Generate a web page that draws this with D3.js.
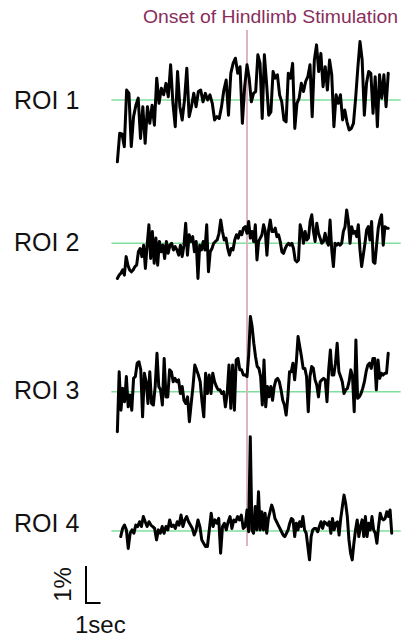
<!DOCTYPE html>
<html>
<head>
<meta charset="utf-8">
<script src="https://cdn.jsdelivr.net/npm/d3@7"></script>
<style>
  html, body { margin: 0; padding: 0; background: #ffffff; }
  svg { display: block; }
  text { font-family: "Liberation Sans", Arial, sans-serif; }
</style>
</head>
<body>
<svg id="chart" width="404" height="637"></svg>
<script>
// ---------------- data ----------------
const roiNames = ["ROI 1", "ROI 2", "ROI 3", "ROI 4"];
const titleText = "Onset of Hindlimb Stimulation";
const scaleBarPctLabel = "1%";
const scaleBarSecLabel = "1sec";
const scaleBarPct = 1;   // %
const scaleBarSec = 1;   // s

// trace start / end times (s, relative to stimulation onset)
const traceStart = [-8.94, -8.94, -8.94, -8.71];
const traceEnd   = [9.74, 9.74, 9.74, 9.98];

// dF/F (%) before onset (last sample at onset)
const roi1Pre = [-1.67,-0.90,-0.92,-1.26,0.27,0.18,-1.26,-0.45,-0.14,0.05,
  -1.04,-0.18,-1.17,-0.18,-0.63,-0.14,-0.68,0.59,-0.09,0.32,
  0.14,0.45,0.09,0.95,-0.09,-0.72,0.77,-0.18,-0.54,0,
  0.86,-0.45,-0.18,0.18,-0.18,0.23,0.27,-0.05,0.18,0,
  0.14,-0.09,-0.54,-0.45,-0.50,-0.18,0.27,0.54,-0.41,0.72,
  0.99,1.13,0.72,0.90,-0.63,0.36,0.95];
// dF/F (%) after onset (first sample at onset)
const roi1Post = [0.95,0.59,-0.05,0.18,0.23,
  1.22,0.99,-0.50,1.22,0.45,-0.41,-0.32,0.77,0.59,0.68,
  0.14,-0.05,-0.54,-0.59,0.72,0.59,0.99,-0.77,-0.09,0.05,
  0.45,0.23,0.50,0.63,0.95,-0.45,1.08,1.49,0.77,1.26,
  0.36,0.90,0.27,1.08,0.68,-0.72,0.14,-0.09,0.14,-0.54,
  -0.27,-0.59,-0.81,-0.77,-0.63,0.05,0.86,1.58,1.08,-0.41,
  0.45,0.77,0.72,-0.36,0.63,-0.72,0.68,0.05,0.68,-0.18,0.72];

const roi2Pre = [-0.95,-0.86,-0.81,-0.72,-0.86,-0.36,-0.59,-0.72,-0.77,-0.72,
  -0.63,-0.59,-0.23,-0.14,-0.36,-0.05,-0.68,-0.05,0.50,-0.41,
  0.32,-0.54,0.14,-0.59,0.05,-0.23,-0.05,-0.41,0.05,-0.27,
  -0.05,0,-0.18,-0.09,-0.18,-0.32,-0.05,-0.36,-0.05,0.54,
  -0.32,0.23,0.05,0.18,-0.23,0.05,-0.95,-0.05,-0.18,0.05,
  -0.18,0.50,-0.77,-0.23,-0.14,0,0.05,0.09,0.27,0.63,
  0.32,0.09,0.14,-0.14,-0.32,-0.14,-0.18,0.09,0.23,0.14,
  0.32,0.23,0.41,0.45,0.27];
const roi2Post = [0.27,0.59,0.14,0.32,0.05,0.50,-0.45,0.05,
  0.14,0.23,0.50,0.32,-0.32,0.36,0.63,0.32,0.32,0.41,
  0.18,0.23,0.05,-0.23,-0.27,-0.14,-0.05,0,-0.05,0,
  -0.14,-0.45,-0.50,-0.45,0.50,0.32,0,0.32,0.09,0.14,
  0.59,0.77,0.32,0.05,0.54,0.27,0.14,0,0.05,0.27,
  0.05,-0.05,0.63,-0.18,-0.63,0,-0.05,0,-0.05,0,
  0.32,0.45,0.90,0.59,0,0.45,0.27,0.32,0.18,0.50,
  -0.18,-0.63,-0.32,0,0.36,0.45,0.09,0.59,-0.50,-0.54,
  -0.05,0.41,0.63,0.77,-0.05,0.45,0.41,0.41];

const roi3Pre = [-1.08,0.54,-0.50,0.09,-0.27,0.41,-0.41,-0.09,-0.50,0.36,
  0.41,0.77,0.81,0.59,-0.68,0.50,0.27,-0.32,0.54,-0.32,
  -0.36,0.14,1.04,0.14,0.05,-0.36,0.90,-0.14,-0.14,0.59,
  0.54,0.27,0.36,0.27,0.32,-0.05,0.14,-0.23,-0.32,-0.14,
  -0.81,-0.32,0.14,0.72,0.59,0.45,0.27,-0.27,-0.68,0.50,
  -0.05,0.45,-0.05,0.50,0.27,0.14,0.05,0.05,-0.05,0,
  -0.41,-0.05,0.72,-0.45,0.72,-0.50,0.86,0.90,0.59,0.59,
  0.45,0.45,0.41];
const roi3Post = [0.41,0.99,2.03,1.76,1.31,0.95,
  0.68,0.63,0.41,-0.36,0.86,-0.41,0.14,-0.14,0.14,-0.23,
  0.14,0.32,0.36,0.27,0.05,-0.23,-0.36,-0.63,-0.14,0.54,
  0.54,0.77,0.32,0.81,1.49,1.22,0.95,0.63,0.63,0.41,
  -0.54,0.41,0.68,0.63,0.32,0.18,-0.14,0.27,0.32,0.36,
  0.32,-0.27,0.59,1.13,0.45,0.45,0.77,1.31,0.54,0.41,
  0.27,-0.05,0.05,0.09,0.27,0.59,0.41,-0.54,1.40,-0.18,
  -0.14,-0.05,0.09,0.27,0.54,0.72,0.77,0.63,0.90,0.90,
  0.05,0.86,0.36,0.50,0.45,0.50,0.50,1.04];

const roi4Pre = [-0.15,0.07,0.16,0.03,-0.47,-0.06,0.03,-0.06,0.16,0.12,
  0.25,0.12,0.39,0.25,0.12,0.25,0.16,0.12,0.07,-0.24,
  0.03,-0.06,0.12,-0.06,0.12,0.03,0.30,0.12,0.16,0.07,
  0.25,0.16,0.43,0.12,0.30,0.39,0.25,0.16,0.07,-0.11,
  0.03,0.30,0.12,-0.24,-0.33,-0.42,-0.42,0.03,0.48,0.12,
  0.30,0.21,0.34,-0.60,0.12,0.21,0.03,0.25,0.39,0.07,
  0.30,0.25,0.39,0.30,0.43,0.07,0.12,0.57];
const roi4Post = [0.57,-0.02,
  2.55,0.03,-0.06,0.66,0.03,1.06,0.03,0.52,0.03,0.48,
  -0.06,0.34,0.52,0.70,0.57,0.34,0.25,0.16,0.07,-0.02,
  -0.11,-0.15,-0.06,0.03,0.21,0.34,0.30,-0.15,0.21,0.03,
  0.25,0.12,0.39,0.03,-0.06,-0.42,-0.78,-0.15,0.03,0.07,
  0.07,-0.02,0.12,0.25,0.07,0.25,0.21,0.16,0.25,-0.06,
  0.34,0.03,0.21,0.25,-0.11,0.34,0.66,0.97,0.75,0.39,
  -0.24,-0.60,-0.78,-0.33,0.03,0.30,-0.15,0.12,0.30,-0.15,
  0.39,-0.15,0.21,0.03,0.39,0.03,-0.06,-0.33,0.12,0.48,
  0.34,0.30,0.34,0.52,0.39,0.57,-0.06];

const preSeries  = [roi1Pre, roi2Pre, roi3Pre, roi4Pre];
const postSeries = [roi1Post, roi2Post, roi3Post, roi4Post];

// ---------------- layout ----------------
const svg = d3.select("#chart");
const onsetX = 247, pxPerSec = 14.5, pxPerPct = 37;
const baselines = [100, 243.3, 391.7, 531];
const labelY = [102, 244, 392, 525];

const x = d3.scaleLinear().domain([0, 1]).range([onsetX, onsetX + pxPerSec]);
const yFor = b => d3.scaleLinear().domain([0, 1]).range([b, b - pxPerPct]);

function buildPoints(i) {
  const pre = preSeries[i], post = postSeries[i];
  const t0 = traceStart[i], t1 = traceEnd[i];
  const pts = pre.map((v, k) => ({t: t0 + (0 - t0) * k / (pre.length - 1), v}));
  post.forEach((v, k) => {
    if (k === 0) return; // onset sample already included
    pts.push({t: t1 * k / (post.length - 1), v});
  });
  return pts;
}

// baselines (green)
roiNames.forEach((name, i) => {
  svg.append("line")
    .attr("x1", x(-9.35)).attr("x2", x(10.6))
    .attr("y1", baselines[i]).attr("y2", baselines[i])
    .attr("stroke", "#7fdf9c").attr("stroke-width", 1.5);
});

// onset line (pink)
svg.append("line")
  .attr("x1", x(0)).attr("x2", x(0))
  .attr("y1", 30).attr("y2", 546)
  .attr("stroke", "#dbb6c2").attr("stroke-width", 2);

// traces
roiNames.forEach((name, i) => {
  const y = yFor(baselines[i]);
  const line = d3.line().x(d => x(d.t)).y(d => y(d.v));
  svg.append("path")
    .datum(buildPoints(i))
    .attr("d", line)
    .attr("fill", "none")
    .attr("stroke", "#000")
    .attr("stroke-width", 3)
    .attr("stroke-linejoin", "round")
    .attr("stroke-linecap", "round");
});

// ROI labels
roiNames.forEach((name, i) => {
  svg.append("text")
    .attr("x", 14).attr("y", labelY[i])
    .attr("dominant-baseline", "middle")
    .attr("font-size", 25)
    .attr("fill", "#111")
    .text(name);
});

// title
svg.append("text")
  .attr("x", 143).attr("y", 22.5)
  .attr("font-size", 17.5)
  .attr("fill", "#8a2d5c")
  .attr("textLength", 255)
  .attr("lengthAdjust", "spacingAndGlyphs")
  .text(titleText);

// scale bar
const sbY0 = 603, sbX0 = 86;
const sbY = yFor(sbY0);
const sbXs = d3.scaleLinear().domain([0, 1]).range([sbX0, sbX0 + pxPerSec]);
svg.append("path")
  .attr("d", `M${sbX0},${sbY(scaleBarPct)}L${sbX0},${sbY(0)}L${sbXs(scaleBarSec)},${sbY(0)}`)
  .attr("fill", "none").attr("stroke", "#000").attr("stroke-width", 2);
svg.append("text")
  .attr("transform", `translate(71,${(sbY(0) + sbY(scaleBarPct)) / 2}) rotate(-90)`)
  .attr("text-anchor", "middle")
  .attr("font-size", 24)
  .attr("fill", "#111")
  .text(scaleBarPctLabel);
svg.append("text")
  .attr("x", 75).attr("y", 633)
  .attr("font-size", 24)
  .attr("fill", "#111")
  .text(scaleBarSecLabel);
</script>
</body>
</html>
